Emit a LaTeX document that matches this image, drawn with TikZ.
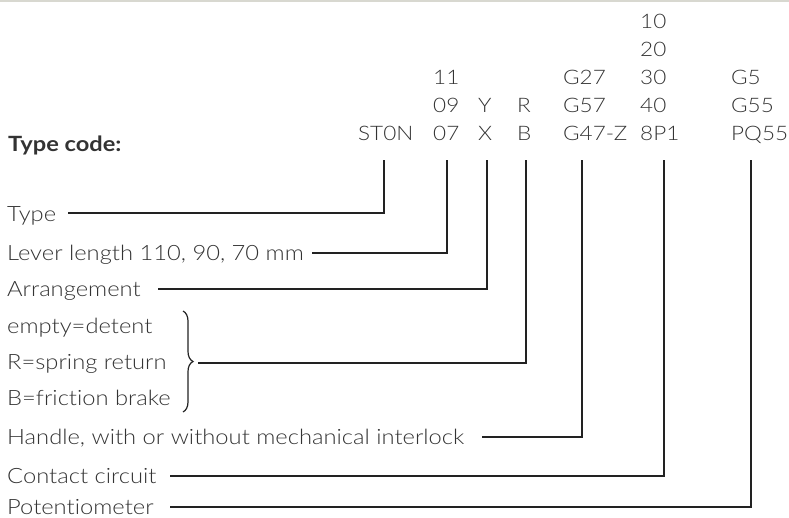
\documentclass[tikz,border=0pt]{standalone}
\usepackage{fontspec}
\setmainfont{Lato}[UprightFont={* Light},BoldFont={* Bold},FakeStretch=1.125,Ligatures={NoCommon}]
\usetikzlibrary{decorations.pathreplacing}
\definecolor{txt}{HTML}{333333}
\definecolor{ln}{HTML}{222222}
\definecolor{topline}{HTML}{D8D8D0}
\begin{document}
\begin{tikzpicture}[x=1pt,y=-1pt,
  lbl/.style={anchor=base west,inner sep=0pt,text=txt,font=\fontsize{21.1}{24}\selectfont},
  code/.style={anchor=base west,inner sep=0pt,text=txt,font=\fontsize{20}{24}\selectfont},
  conn/.style={draw=ln,line width=1.6pt}]
\useasboundingbox (0,0) rectangle (789,517);
\fill[topline] (0,0) rectangle (789,1.5);
% title
\node[lbl,font=\fontsize{21}{24}\selectfont\bfseries] (title) at (8,151) {Type code:};
% code columns
\node[code] (st) at (358,140) {ST0N};
\node[code] (l11) at (433,84) {11};
\node[code] (l09) at (433,112) {09};
\node[code] (l07) at (433,140) {07};
\node[code] (aY) at (478,112) {Y};
\node[code] (aX) at (478,140) {X};
\node[code] (bR) at (517,112) {R};
\node[code] (bB) at (517,140) {B};
\node[code] (g27) at (563,84) {G27};
\node[code] (g57) at (563,112) {G57};
\node[code] (g47) at (563,140) {G47-Z};
\node[code] (c10) at (640,28) {10};
\node[code] (c20) at (640,56) {20};
\node[code] (c30) at (640,84) {30};
\node[code] (c40) at (640,112) {40};
\node[code] (c8p) at (640,140) {8P1};
\node[code] (p5) at (731,84) {G5};
\node[code] (p55) at (731,112) {G55};
\node[code] (pq) at (731,140) {PQ55};
% top points of connectors
\coordinate (tST) at (384,160);
\coordinate (tLV) at (447,160);
\coordinate (tAR) at (487,160);
\coordinate (tBR) at (526,160);
\coordinate (tHD) at (582,160);
\coordinate (tCC) at (664,160);
\coordinate (tPT) at (751,160);
% left labels
\node[lbl] (type) at (7,221) {Type};
\node[lbl] (lever) at (7,260) {Lever length 110, 90, 70 mm};
\node[lbl] (arr) at (7,296) {Arrangement};
\node[lbl] (emp) at (7,333) {empty=detent};
\node[lbl] (spr) at (7,369) {R=spring return};
\node[lbl] (fri) at (7,405) {B=friction brake};
\node[lbl] (hdl) at (7,444) {Handle, with or without mechanical interlock};
\node[lbl] (con) at (7,483) {Contact circuit};
\node[lbl] (pot) at (7,514) {Potentiometer};
% left ends of connectors
\coordinate (eType) at (68,213);
\coordinate (eLev) at (312,253);
\coordinate (eArr) at (158,289);
\coordinate (eBr) at (198,363);
\coordinate (eHd) at (482,437);
\coordinate (eCon) at (170,476);
\coordinate (ePot) at (170,507);
% brace
\draw[ln,line width=1.2pt,decorate,decoration={brace,amplitude=10pt}] (183,311) -- (183,412);
% connectors
\draw[conn] (tST) |- (eType);
\draw[conn] (tLV) |- (eLev);
\draw[conn] (tAR) |- (eArr);
\draw[conn] (tBR) |- (eBr);
\draw[conn] (tHD) |- (eHd);
\draw[conn] (tCC) |- (eCon);
\draw[conn] (tPT) |- (ePot);
\end{tikzpicture}
\end{document}
